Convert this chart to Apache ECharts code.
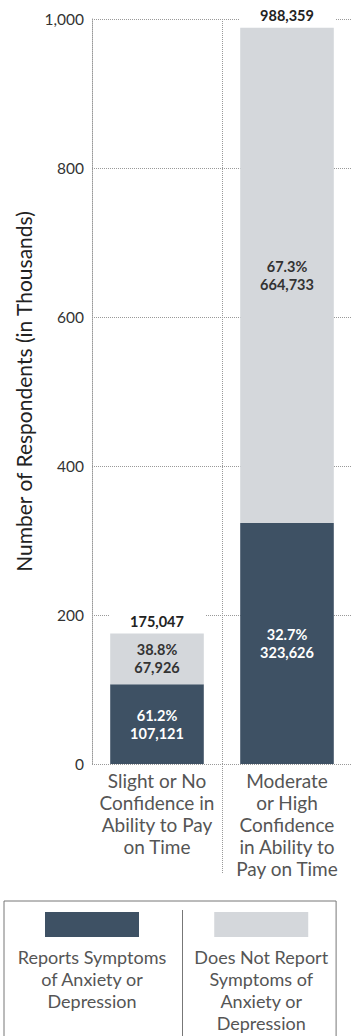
<!DOCTYPE html>
<html><head><meta charset="utf-8">
<script src="https://cdn.jsdelivr.net/npm/echarts@6/dist/echarts.min.js"></script>
<style>html,body{margin:0;padding:0;background:#fff}#c{width:359px;height:1036px}</style>
</head><body><div id="c"></div>
<script>
// ---- data ----
const categories = ['Slight or No\nConfidence in\nAbility to Pay\non Time', 'Moderate\nor High\nConfidence\nin Ability to\nPay on Time'];
const seriesNames = ['Reports Symptoms of Anxiety or Depression', 'Does Not Report Symptoms of Anxiety or Depression'];
const reportsCounts = [107121, 323626];
const notReportsCounts = [67926, 664733];
const reportsPct = ['61.2%', '32.7%'];
const notReportsPct = ['38.8%', '67.3%'];
const totalCounts = [175047, 988359];
const yTicks = [0, 200, 400, 600, 800, 1000];
const legendLines = [
  ['Reports Symptoms', 'of Anxiety or', 'Depression', ' '],
  ['Does Not Report', 'Symptoms of', 'Anxiety or', 'Depression']
];

// ---- style ----
const DARK = '#3e5164';
const LIGHT = '#d4d7db';
const GRID = '#999';
const FONT = 'Lato';
const fmt = n => n.toLocaleString('en-US');
const toK = arr => arr.map(v => v / 1000);

const chart = echarts.init(document.getElementById('c'), null, { renderer: 'svg' });
const barLabel = { show: true, position: 'inside', fontFamily: FONT, fontSize: 14.5, fontWeight: 'bold', lineHeight: 18 };

chart.setOption({
  animation: false,
  grid: { left: 92, right: 7, top: 19, bottom: 272 },
  xAxis: [
    {
      type: 'category', data: categories,
      axisLine: { show: false }, axisTick: { show: false }, splitLine: { show: false },
      axisLabel: { interval: 0, margin: 5, fontFamily: FONT, fontSize: 19, lineHeight: 22, color: '#555' }
    },
    {
      type: 'value', min: 0, max: 2, position: 'bottom',
      axisLine: { show: false }, axisLabel: { show: false },
      axisTick: { show: true, customValues: [1], length: 110, lineStyle: { type: 'dotted', color: GRID } },
      splitLine: { show: true, lineStyle: { type: 'dotted', color: GRID } }
    }
  ],
  yAxis: {
    type: 'value', min: yTicks[0], max: yTicks[yTicks.length - 1], interval: yTicks[1] - yTicks[0],
    name: 'Number of Respondents (in Thousands)', nameLocation: 'middle', nameGap: 51,
    nameTextStyle: { fontFamily: FONT, fontSize: 21, color: '#222' },
    axisLine: { show: true, lineStyle: { type: 'dotted', color: GRID } },
    axisTick: { show: false },
    axisLabel: { margin: 8, fontFamily: FONT, fontSize: 15.5, color: '#333', formatter: v => fmt(v) },
    splitLine: { show: true, lineStyle: { type: 'dotted', color: GRID } }
  },
  legend: {
    data: seriesNames, left: 4, top: 901, orient: 'horizontal',
    icon: 'rect', itemWidth: 0, itemHeight: 0, itemGap: 10,
    padding: [11, 8, 12, 3], borderColor: '#777', borderWidth: 1, selectedMode: false,
    formatter: name => {
      const i = seriesNames.indexOf(name);
      return '{sw' + i + '|}\n' + legendLines[i].map(l => '{t|' + l + '}').join('\n');
    },
    textStyle: {
      width: 160, fontFamily: FONT, fontSize: 18, color: '#555',
      rich: {
        sw0: { width: 94, height: 25, lineHeight: 43, align: 'center', backgroundColor: DARK },
        sw1: { width: 94, height: 25, lineHeight: 43, align: 'center', backgroundColor: LIGHT },
        t: { fontFamily: FONT, fontSize: 18, lineHeight: 22, color: '#555', align: 'center' }
      }
    }
  },
  graphic: [{ type: 'line', shape: { x1: 182.5, y1: 910, x2: 182.5, y2: 1040 }, style: { stroke: '#777', lineWidth: 1 } }],
  series: [
    {
      name: seriesNames[0], type: 'bar', stack: 't', barCategoryGap: '28%', data: toK(reportsCounts),
      itemStyle: { color: DARK },
      label: Object.assign({}, barLabel, { color: '#fff', formatter: p => reportsPct[p.dataIndex] + '\n' + fmt(reportsCounts[p.dataIndex]) })
    },
    {
      name: seriesNames[1], type: 'bar', stack: 't', barCategoryGap: '28%', data: toK(notReportsCounts),
      itemStyle: { color: LIGHT },
      label: Object.assign({}, barLabel, { color: '#333', formatter: p => notReportsPct[p.dataIndex] + '\n' + fmt(notReportsCounts[p.dataIndex]) })
    },
    {
      name: 'Total', type: 'bar', stack: 't', barCategoryGap: '28%', data: totalCounts.map(() => 0), silent: true,
      itemStyle: { color: 'transparent' },
      label: {
        show: true, position: 'top', distance: 1, fontFamily: FONT, fontSize: 14.5, fontWeight: 'bold', lineHeight: 18,
        color: '#222', backgroundColor: '#fff', width: 96, align: 'center', padding: [4, 0, 2, 0],
        formatter: p => fmt(totalCounts[p.dataIndex])
      }
    }
  ]
});
</script></body></html>
